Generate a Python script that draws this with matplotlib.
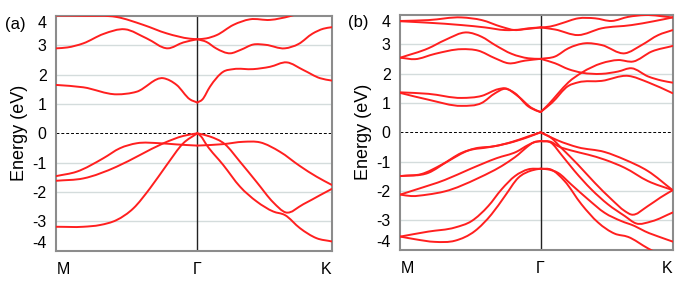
import numpy as np
import matplotlib
matplotlib.use("Agg")
import matplotlib.pyplot as plt
from matplotlib.path import Path
from matplotlib.patches import PathPatch

plt.rcParams['font.family'] = ['Liberation Sans', 'DejaVu Sans']

# k-path tick labels and positions (fraction of path; M=0, K=1)
kpoint_labels = ['M', 'Γ', 'K']
gamma_a = 0.512
gamma_b = 0.515
yticks = [-4, -3, -2, -1, 0, 1, 2, 3, 4]

# ---------------- Panel (a) bands: (k, E) pairs -------------
a_k_c1 = [0, 0.10, 0.219, 0.316, 0.401, 0.485, 0.512]
a_E_c1 = [4.02, 4.01, 3.97, 3.70, 3.41, 3.23, 3.21]
a_k_c2 = [0, 0.04, 0.098, 0.171, 0.249, 0.328, 0.405, 0.461, 0.512]
a_E_c2 = [2.90, 2.93, 3.07, 3.39, 3.55, 3.24, 2.90, 3.10, 3.21]
a_k_c3 = [0, 0.098, 0.219, 0.292, 0.389, 0.437, 0.485, 0.512]
a_E_c3 = [1.65, 1.57, 1.33, 1.42, 1.88, 1.65, 1.16, 1.05]
a_k_c4 = [0.512, 0.545, 0.582, 0.643, 0.703, 0.776, 0.849, 0.90]
a_E_c4 = [3.21, 3.24, 3.35, 3.70, 3.89, 3.87, 4.0, 4.15]
a_k_c5 = [0.512, 0.545, 0.58, 0.632, 0.67, 0.715, 0.76, 0.83, 0.88, 0.93, 0.97, 1.0]
a_E_c5 = [3.21, 3.12, 2.90, 2.73, 2.85, 3.03, 3.02, 2.90, 3.05, 3.40, 3.57, 3.62]
a_k_c6 = [0.512, 0.53, 0.558, 0.606, 0.643, 0.715, 0.776, 0.837, 0.897, 0.958, 1.0]
a_E_c6 = [1.05, 1.15, 1.59, 2.10, 2.19, 2.19, 2.27, 2.42, 2.16, 1.88, 1.80]

a_k_v1 = [0, 0.074, 0.171, 0.231, 0.292, 0.377, 0.437, 0.512]
a_E_v1 = [-1.46, -1.31, -0.85, -0.51, -0.34, -0.34, -0.38, -0.42]
a_k_v2 = [0, 0.098, 0.219, 0.304, 0.389, 0.461, 0.512]
a_E_v2 = [-1.62, -1.54, -1.14, -0.74, -0.34, -0.09, 0.0]
a_k_v3 = [0, 0.098, 0.159, 0.219, 0.280, 0.340, 0.401, 0.461, 0.512]
a_E_v3 = [-3.19, -3.19, -3.13, -2.96, -2.56, -1.88, -1.08, -0.34, 0.0]
a_k_v4 = [0.512, 0.606, 0.679, 0.740, 0.812, 0.885, 0.945, 1.0]
a_E_v4 = [-0.42, -0.37, -0.29, -0.31, -0.63, -1.12, -1.48, -1.76]
a_k_v5 = [0.512, 0.525, 0.546, 0.606, 0.667, 0.728, 0.788, 0.830, 0.885, 0.945, 1.0]
a_E_v5 = [0.0, -0.10, -0.40, -1.08, -1.82, -2.33, -2.67, -2.79, -3.24, -3.58, -3.69]
a_k_v6 = [0.512, 0.558, 0.612, 0.667, 0.728, 0.788, 0.833, 0.897, 0.958, 1.0]
a_E_v6 = [0.0, -0.11, -0.37, -0.97, -1.67, -2.36, -2.70, -2.42, -2.11, -1.90]

# ---------------- Panel (b) bands ----------------
b_k_u1 = [0, 0.103, 0.225, 0.299, 0.372, 0.421, 0.470, 0.515]
b_E_u1 = [3.79, 3.82, 3.91, 3.82, 3.59, 3.48, 3.54, 3.57]
b_k_u2 = [0, 0.103, 0.225, 0.311, 0.384, 0.446, 0.515]
b_E_u2 = [3.78, 3.73, 3.65, 3.57, 3.48, 3.50, 3.57]
b_k_a1 = [0, 0.103, 0.164, 0.244, 0.299, 0.348, 0.409, 0.470, 0.515]
b_E_a1 = [2.54, 2.86, 3.14, 3.40, 3.25, 2.97, 2.67, 2.52, 2.50]
b_k_a2 = [0, 0.054, 0.127, 0.225, 0.286, 0.348, 0.397, 0.458, 0.515]
b_E_a2 = [2.54, 2.49, 2.67, 2.83, 2.78, 2.52, 2.35, 2.44, 2.50]
b_k_c1 = [0, 0.103, 0.225, 0.299, 0.360, 0.384, 0.433, 0.482, 0.515]
b_E_c1 = [1.36, 1.31, 1.17, 1.24, 1.47, 1.50, 1.22, 0.83, 0.69]
b_k_c2 = [0, 0.103, 0.225, 0.299, 0.348, 0.384, 0.421, 0.470, 0.505, 0.515]
b_E_c2 = [1.34, 1.11, 0.90, 1.00, 1.33, 1.48, 1.33, 0.88, 0.72, 0.69]
b_k_d1 = [0.515, 0.55, 0.592, 0.653, 0.715, 0.776, 0.837, 0.898, 1.0]
b_E_d1 = [3.57, 3.60, 3.71, 3.88, 3.88, 3.79, 3.93, 3.99, 3.91]
b_k_d2 = [0.515, 0.568, 0.653, 0.739, 0.849, 0.93, 1.0]
b_E_d2 = [3.57, 3.50, 3.31, 3.54, 3.65, 3.78, 3.91]
b_k_e1 = [0.515, 0.568, 0.617, 0.678, 0.739, 0.825, 0.886, 0.947, 1.0]
b_E_e1 = [2.50, 2.58, 2.86, 3.03, 2.97, 2.69, 2.97, 3.31, 3.48]
b_k_e2 = [0.515, 0.568, 0.617, 0.666, 0.739, 0.800, 0.849, 0.910, 0.960, 1.0]
b_E_e2 = [2.50, 2.35, 2.15, 2.03, 1.99, 2.07, 2.18, 1.90, 1.76, 1.69]
b_k_f1 = [0.515, 0.543, 0.580, 0.617, 0.666, 0.739, 0.800, 0.855, 0.923, 1.0]
b_E_f1 = [0.69, 0.94, 1.33, 1.70, 2.03, 2.35, 2.46, 2.41, 2.75, 2.94]
b_k_f2 = [0.515, 0.556, 0.617, 0.653, 0.739, 0.837, 0.910, 1.0]
b_E_f2 = [0.69, 1.00, 1.58, 1.70, 1.75, 1.92, 1.70, 1.33]

b_k_g1 = [0, 0.078, 0.152, 0.225, 0.274, 0.348, 0.409, 0.470, 0.515]
b_E_g1 = [-1.49, -1.42, -1.10, -0.70, -0.55, -0.47, -0.33, -0.14, 0.0]
b_k_g2 = [0, 0.103, 0.176, 0.250, 0.323, 0.397, 0.470, 0.515]
b_E_g2 = [-1.49, -1.38, -0.98, -0.62, -0.51, -0.37, -0.16, 0.0]
b_k_h1 = [0, 0.054, 0.164, 0.256, 0.354, 0.427, 0.470, 0.495, 0.515]
b_E_h1 = [-2.12, -1.96, -1.62, -1.25, -0.88, -0.66, -0.43, -0.33, -0.30]
b_k_h2 = [0, 0.04, 0.10, 0.164, 0.286, 0.384, 0.433, 0.465, 0.49, 0.515]
b_E_h2 = [-2.12, -2.17, -2.12, -2.01, -1.56, -1.08, -0.76, -0.50, -0.34, -0.30]
b_k_i1 = [0, 0.103, 0.201, 0.262, 0.323, 0.372, 0.421, 0.470, 0.515]
b_E_i1 = [-3.55, -3.38, -3.24, -3.02, -2.51, -1.94, -1.49, -1.26, -1.24]
b_k_i2 = [0, 0.054, 0.127, 0.201, 0.274, 0.335, 0.384, 0.433, 0.482, 0.515]
b_E_i2 = [-3.55, -3.64, -3.73, -3.69, -3.36, -2.79, -2.17, -1.55, -1.30, -1.24]
b_k_j1 = [0.515, 0.579, 0.652, 0.750, 0.824, 0.909, 1.0]
b_E_j1 = [0.0, -0.28, -0.51, -0.67, -0.93, -1.32, -1.97]
b_k_j2 = [0.515, 0.554, 0.579, 0.628, 0.689, 0.750, 0.824, 0.909, 1.0]
b_E_j2 = [-0.30, -0.33, -0.47, -0.62, -0.76, -0.93, -1.21, -1.66, -1.97]
b_k_p1 = [0.515, 0.554, 0.591, 0.652, 0.714, 0.775, 0.824, 0.848, 0.909, 0.955, 1.0]
b_E_p1 = [0.0, -0.19, -0.53, -1.10, -1.72, -2.28, -2.68, -2.80, -2.51, -2.22, -1.97]
b_k_p2 = [0.515, 0.554, 0.591, 0.640, 0.701, 0.762, 0.824, 0.865, 0.923, 1.0]
b_E_p2 = [-0.30, -0.36, -0.76, -1.32, -1.94, -2.45, -2.85, -3.10, -3.03, -2.73]
b_k_m1 = [0.515, 0.554, 0.603, 0.665, 0.726, 0.787, 0.836, 0.909, 0.95]
b_E_m1 = [-1.24, -1.27, -1.66, -2.45, -3.07, -3.45, -3.56, -3.95, -4.15]
b_k_m2 = [0.515, 0.54, 0.579, 0.628, 0.689, 0.750, 0.811, 0.86, 0.898, 0.960, 1.0]
b_E_m2 = [-1.24, -1.26, -1.38, -1.78, -2.28, -2.74, -3.02, -3.19, -3.37, -3.59, -3.72]

panel_a = [(a_k_c1, a_E_c1), (a_k_c2, a_E_c2), (a_k_c3, a_E_c3), (a_k_c4, a_E_c4),
           (a_k_c5, a_E_c5), (a_k_c6, a_E_c6), (a_k_v1, a_E_v1), (a_k_v2, a_E_v2),
           (a_k_v3, a_E_v3), (a_k_v4, a_E_v4), (a_k_v5, a_E_v5), (a_k_v6, a_E_v6)]
panel_b = [(b_k_u1, b_E_u1), (b_k_u2, b_E_u2), (b_k_a1, b_E_a1), (b_k_a2, b_E_a2),
           (b_k_c1, b_E_c1), (b_k_c2, b_E_c2), (b_k_d1, b_E_d1), (b_k_d2, b_E_d2),
           (b_k_e1, b_E_e1), (b_k_e2, b_E_e2), (b_k_f1, b_E_f1), (b_k_f2, b_E_f2),
           (b_k_g1, b_E_g1), (b_k_g2, b_E_g2), (b_k_h1, b_E_h1), (b_k_h2, b_E_h2),
           (b_k_i1, b_E_i1), (b_k_i2, b_E_i2), (b_k_j1, b_E_j1), (b_k_j2, b_E_j2),
           (b_k_p1, b_E_p1), (b_k_p2, b_E_p2), (b_k_m1, b_E_m1), (b_k_m2, b_E_m2)]

RED = '#ff1f1f'


def smooth_path(k, E):
    """Hermite (Bezier) curve through the read points, drawn by matplotlib's Path."""
    k = np.asarray(k, float)
    E = np.asarray(E, float)
    h = np.diff(k)
    d = np.diff(E) / h
    m = np.empty_like(E)
    m[0] = d[0]
    m[-1] = d[-1]
    for i in range(1, len(E) - 1):
        m[i] = (d[i - 1] * h[i] + d[i] * h[i - 1]) / (h[i - 1] + h[i])
    verts = [(k[0], E[0])]
    codes = [Path.MOVETO]
    for i in range(len(h)):
        verts += [(k[i] + h[i] / 3, E[i] + m[i] * h[i] / 3),
                  (k[i + 1] - h[i] / 3, E[i + 1] - m[i + 1] * h[i] / 3),
                  (k[i + 1], E[i + 1])]
        codes += [Path.CURVE4] * 3
    return Path(verts, codes)


fig = plt.figure(figsize=(6.92, 2.87), dpi=100)
axA = fig.add_axes([56.3 / 692, 1 - 250.5 / 287, 275.4 / 692, 234.4 / 287])
axB = fig.add_axes([400.3 / 692, 1 - 249.8 / 287, 272.4 / 692, 235.0 / 287])

for ax, bands, gpos in [(axA, panel_a, gamma_a), (axB, panel_b, gamma_b)]:
    ax.set_xlim(0, 1)
    ax.set_ylim(-4, 4)
    for yv in [-3, -2, -1, 1, 2, 3]:
        ax.axhline(yv, color='#d4dcdc', lw=1.0, zorder=0)
    ax.axhline(0, color='black', lw=0.7, ls=(0, (3, 2)), zorder=1)
    ax.axvline(gpos, color='#222222', lw=1.0, zorder=1)
    for k, E in bands:
        ax.add_patch(PathPatch(smooth_path(k, E), fill=False, edgecolor=RED,
                               lw=1.4, zorder=3, transform=ax.transData,
                               capstyle='round', joinstyle='round'))
    for s in ax.spines.values():
        s.set_color('#8c8c8c')
        s.set_linewidth(1.5)
    ax.set_yticks(yticks)
    ax.set_yticklabels([str(v) for v in yticks])
    ax.set_xticks([0, gpos, 1])
    ax.set_xticklabels(kpoint_labels)
    ax.tick_params(axis='y', length=0, pad=7, labelsize=11.5, colors='black')
    ax.tick_params(axis='x', length=0, pad=8, labelsize=11.5, colors='black')
    ylabs = ax.get_yticklabels()
    ylabs[0].set_va('bottom')
    ylabs[-1].set_va('top')
    xlabs = ax.get_xticklabels()
    xlabs[0].set_ha('left')
    xlabs[-1].set_ha('right')
    ax.set_ylabel('Energy (eV)', fontsize=13, labelpad=3)

fig.text(5 / 692, 1 - 24 / 287, '(a)', fontsize=12, va='center', ha='left')
fig.text(348 / 692, 1 - 23 / 287, '(b)', fontsize=12, va='center', ha='left')

fig.savefig('out.png', dpi=100)
